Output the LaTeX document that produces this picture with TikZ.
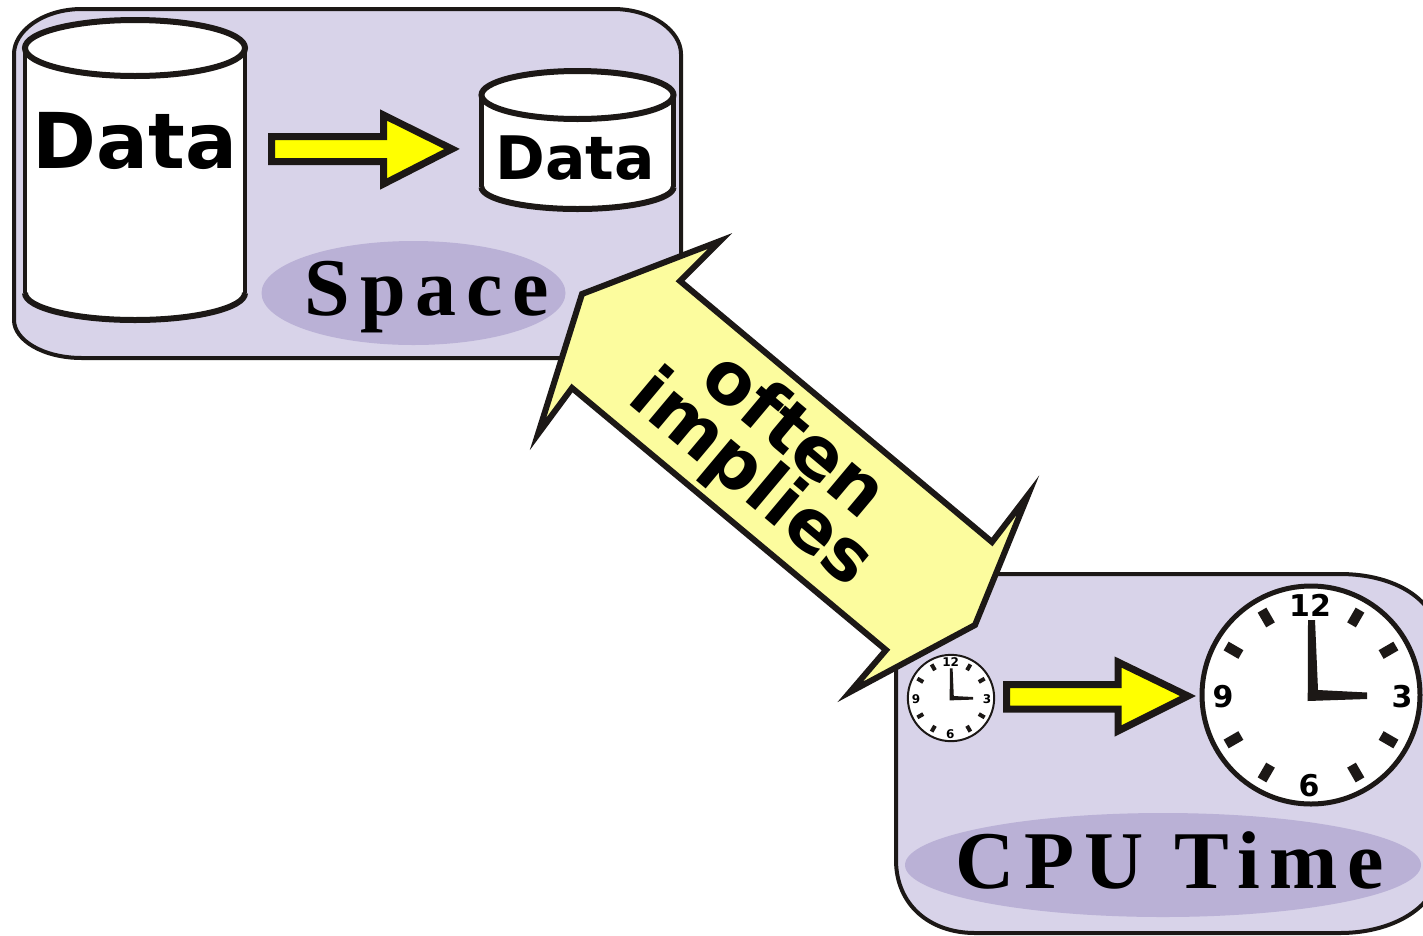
\documentclass[tikz,border=0pt]{standalone}
\usepackage{fontspec}
\setmainfont{DejaVu Sans}
\newfontfamily\dvb{DejaVu Sans Bold}
\newfontfamily\lsb[LetterSpace=12]{Liberation Serif Bold}
\usetikzlibrary{calc}
\definecolor{panel}{HTML}{D8D3E9}
\definecolor{oval}{HTML}{BAB1D6}
\definecolor{ink}{HTML}{1C1816}
\definecolor{pale}{HTML}{FCFC9E}
\definecolor{yel}{HTML}{FFFF00}
\tikzset{
  panelbox/.style={draw=ink,line width=4pt,fill=panel},
  ovalbg/.style={fill=oval,draw=none},
  block/.style={draw=ink,line width=7pt,fill=yel,miter limit=10},
  bigarrow/.style={draw=ink,line width=6pt,fill=pale,miter limit=10},
  cylside/.style={draw=ink,line width=4.5pt},
  cylrim/.style={draw=ink,line width=6pt},
  lbl/.style={inner sep=0pt,anchor=base,text=black},
}
\newcommand{\fs}[1]{\fontsize{#1}{#1}\selectfont}
\newcommand{\mycyl}[6]{% cx, rx, ytop, rytop, ybot, rybot
  \fill[white] (#1-#2,#3) -- (#1-#2,#5) .. controls (#1-#2,#5+.55*#6) and (#1-.55*#2,#5+#6) .. (#1,#5+#6)
     .. controls (#1+.55*#2,#5+#6) and (#1+#2,#5+.55*#6) .. (#1+#2,#5) -- (#1+#2,#3) -- cycle;
  \draw[cylside] (#1-#2,#3) -- (#1-#2,#5);
  \draw[cylside] (#1+#2,#3) -- (#1+#2,#5);
  \draw[cylrim] (#1-#2,#5) .. controls (#1-#2,#5+.55*#6) and (#1-.55*#2,#5+#6) .. (#1,#5+#6)
     .. controls (#1+.55*#2,#5+#6) and (#1+#2,#5+.55*#6) .. (#1+#2,#5);
  \draw[cylrim,fill=white] (#1,#3) ellipse [x radius=#2,y radius=#4];
}
\newcommand{\myclock}[5]{% name, cx, cy, scale, font
  \begin{scope}[shift={(#2,#3)}]
    \pgfmathsetmacro{\sc}{#4}
    \draw[draw=ink,fill=white,line width=\sc*5pt] (0,0) ellipse [x radius=\sc*109,y radius=\sc*109];
    \foreach \a in {30,60,120,150,210,240,300,330}
      \draw[ink,line width=\sc*10pt] (\a:\sc*81) -- (\a:\sc*98);
    \fill[ink] (\sc*-3.3,\sc*6) -- (\sc*-3,\sc*-75) -- (\sc*4,\sc*-75) -- (\sc*7,\sc*-5) -- (\sc*56,\sc*-2.5) -- (\sc*56,\sc*4) -- cycle;
    \node[inner sep=0pt] (#1twelve) at (\sc*-1,\sc*-90) {\dvb\fs{#5}12};
    \node[inner sep=0pt] (#1nine) at (\sc*-88,\sc*2) {\dvb\fs{#5}9};
    \node[inner sep=0pt] (#1three) at (\sc*91,\sc*2) {\dvb\fs{#5}3};
    \node[inner sep=0pt] (#1six) at (\sc*-2,\sc*91) {\dvb\fs{#5}6};
  \end{scope}
}
\begin{document}
\begin{tikzpicture}[x=1pt,y=-1pt]
\useasboundingbox (0,0) rectangle (1423,935);
\clip (0,0) rectangle (1423,935);
\fill[white] (0,0) rectangle (1423,935);
% top panel
\draw[panelbox] (82,9) -- (613,9) .. controls (652,9) and (681,31) .. (681,54)
  -- (681,320) .. controls (681,340) and (652,358) .. (613,358)
  -- (82,358) .. controls (43,358) and (14,340) .. (14,320)
  -- (14,54) .. controls (14,31) and (43,9) .. (82,9) -- cycle;
\fill[ovalbg] (413.5,293) ellipse [x radius=152,y radius=52];
\mycyl{135}{110}{48}{28}{293}{27}
\mycyl{577.5}{96}{95}{24}{187}{22}
\node[lbl] (dataA) at (135,168) {\dvb\fs{77}Data};
\node[lbl] (dataB) at (575,179) {\dvb\fs{60}Data};
\node[lbl] (space) at (427,315) {\lsb\fs{82}Space};
\draw[block] (271.5,136.5) -- (383.5,136.5) -- (383.5,115) -- (452,149) -- (383.5,184) -- (383.5,161.5) -- (271.5,161.5) -- cycle;
% bottom panel
\draw[panelbox] (975,574) -- (1340,574) .. controls (1395,574) and (1438,600) .. (1438,640)
  -- (1438,870) .. controls (1438,905) and (1395,933) .. (1340,933)
  -- (975,933) .. controls (930,933) and (896,905) .. (896,860)
  -- (896,640) .. controls (896,600) and (930,574) .. (975,574) -- cycle;
\fill[ovalbg] (1163,865) ellipse [x radius=258,y radius=52];
\node[lbl] (cpu) at (1170,888) {\lsb\fs{82}CPU Time};
\myclock{big}{1311}{695}{1}{30}
\myclock{small}{951}{698}{0.396}{12}
\draw[block] (1006.5,684.5) -- (1118,684.5) -- (1118,662) -- (1188,696) -- (1118,731) -- (1118,709) -- (1006.5,709) -- cycle;
% double arrow
\draw[bigarrow] (582,294) -- (720,241) -- (680,281) -- (992,542) -- (1028,495) -- (975,625) -- (850,692) -- (886,650) -- (572,388) -- (538,434) -- cycle;
\node[inner sep=0pt,rotate=-40] (often) at (797,432) {\dvb\fs{72}often};
\node[inner sep=0pt,rotate=-40] (implies) at (750,480) {\dvb\fs{72}implies};
\end{tikzpicture}
\end{document}
